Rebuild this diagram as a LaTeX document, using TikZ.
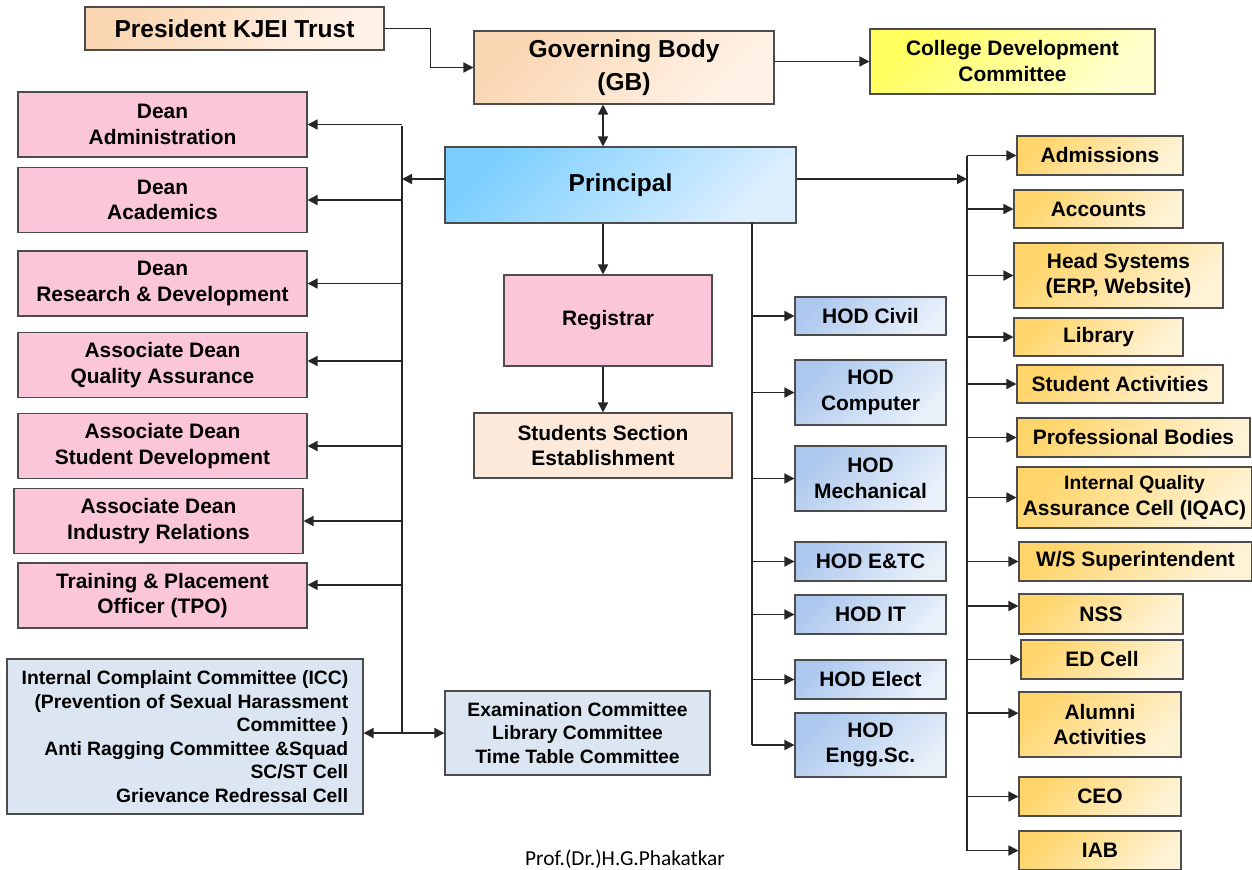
\documentclass[tikz,border=0pt]{standalone}
\usepackage{fontspec}
\setmainfont{Liberation Sans}
\newfontfamily\sigfont{Carlito}
\usepackage{tikz}
\usetikzlibrary{calc}
\usetikzlibrary{arrows.meta}
\definecolor{peachA}{HTML}{FAD6B2}
\definecolor{peachB}{HTML}{FFF3E8}
\definecolor{peachS}{HTML}{FDE9D9}
\definecolor{pinkF}{HTML}{FBC6D9}
\definecolor{prinA}{HTML}{7CCFFF}
\definecolor{prinB}{HTML}{DDEFFF}
\definecolor{hodA}{HTML}{ADC8EE}
\definecolor{hodB}{HTML}{E8F0FA}
\definecolor{yelA}{HTML}{FFD56B}
\definecolor{yelB}{HTML}{FFF3D6}
\definecolor{cdcA}{HTML}{FFFF5E}
\definecolor{cdcB}{HTML}{FFFFD0}
\definecolor{cmtF}{HTML}{DCE6F2}

\begin{document}
\begin{tikzpicture}[x=0.75pt,y=-0.75pt,
	font={\bfseries\fontsize{15.7}{19.2}\selectfont},
	bx/.style={draw=black!70, line width=0.8pt, inner sep=0pt, align=center},
	wh/.style 2 args={minimum width=#1*0.75pt, minimum height=#2*0.75pt},
	tf/.style={font={\bfseries\fontsize{18.4}{24.7}\selectfont}},
	sf/.style={font={\bfseries\fontsize{14.5}{17.6}\selectfont}},
	pc/.style={bx, top color=peachA, bottom color=peachB, shading angle=45},
	pk/.style={bx, fill=pinkF},
	pr/.style={bx, top color=prinA, bottom color=prinB, shading angle=45},
	hod/.style={bx, top color=hodA, bottom color=hodB, shading angle=45},
	yb/.style={bx, top color=yelA, bottom color=yelB, shading angle=45},
	cd/.style={bx, top color=cdcA, bottom color=cdcB, shading angle=45},
	cmt/.style={bx, fill=cmtF, sf},
	ln/.style={line width=1.1pt, black!85},
	ar/.style={ln, -{Triangle[length=7.5pt,width=7.5pt]}},
	dar/.style={ln, {Triangle[length=7.5pt,width=7.5pt]}-{Triangle[length=7.5pt,width=7.5pt]}}]
\useasboundingbox (0,0) rectangle (1252,869);

% top row
\node (pres) at (234.5,28.5) [pc,tf,wh={299}{43}] {President KJEI Trust};
\node (gb) at (624,67.5) [pc,tf,wh={300}{73}] {Governing Body\\(GB)};
\node (cdc) at (1012.5,61.5) [cd,wh={285}{65},font={\bfseries\fontsize{15.7}{19.5}\selectfont}] {College Development\\Committee};
\node (prin) at (620.5,185) [pr,tf,wh={351}{76}] {Principal};

% middle column
\node (reg) at (608,320.5) [pk,wh={208}{91}] {Registrar};
\node (ss) at (603,445.5) [bx,fill=peachS,wh={258}{65}] {Students Section\\Establishment};

% deans
\foreach \n/\x/\y/\t in {da/162.5/124.5/{Dean\\Administration}, dac/162.5/200/{Dean\\Academics},
	drd/162.5/283.5/{Dean\\Research \& Development}, dqa/162.5/365/{Associate Dean\\Quality Assurance},
	dsd/162.5/446/{Associate Dean\\Student Development}, dir/158.5/521/{Associate Dean\\Industry Relations},
	tpo/162.5/595.5/{Training \& Placement\\Officer (TPO)}} {
\node (\n) at (\x,\y) [pk,wh={289}{65}] {\t};
}

% committees
\node (icc) at (185,736.5) [cmt,wh={356}{155},align=right] {Internal Complaint Committee (ICC)\\(Prevention of Sexual Harassment\\Committee )\\Anti Ragging Committee \&Squad\\SC/ST Cell\\Grievance Redressal Cell};
\node (exam) at (577.5,733) [cmt,wh={265}{84}] {Examination Committee\\Library Committee\\Time Table Committee};

% HODs
\foreach \n/\y/\h/\t in {hc/316/38/{HOD Civil}, hcm/392.5/65/{HOD\\Computer}, hme/478.5/65/{HOD\\Mechanical},
	het/561.5/39/{HOD E\&TC}, hit/614.5/39/{HOD IT}, hel/679.5/39/{HOD Elect}, hes/745/64/{HOD\\Engg.Sc.}} {
\node (\n) at (870.5,\y) [hod,wh={151}{\h}] {\t};
}

% sections on the right
\foreach \n/\x/\y/\w/\h/\t in {adm/1100/155.5/166/39/Admissions, acc/1098.5/209/169/38/Accounts,
	hs/1118.5/275.5/209/65/{Head Systems\\(ERP, Website)}, lib/1098.5/337/169/38/Library,
	sa/1120/384/206/38/{Student Activities}, pb/1133.5/437.5/233/39/{Professional Bodies},
	iqac/1134.5/497.5/235/61/{\fontsize{14.5}{17.3}\selectfont Internal Quality\\Assurance Cell (IQAC)},
	ws/1135.5/561.5/233/39/{W/S Superintendent}, nss/1101/614/164/40/NSS, ed/1102/659.5/162/39/{ED Cell},
	alu/1100/724.5/162/65/{Alumni\\Activities}, ceo/1100/796.5/162/39/CEO, iab/1100/850.5/162/39/IAB} {
\node (\n) at (\x,\y) [yb,wh={\w}{\h}] {\t};
}

\node (sig) at (625,865) [anchor=base,font={\sigfont\fontsize{16}{18}\selectfont}] {Prof.(Dr.)H.G.Phakatkar};

% trunks
\coordinate (lt) at (402,126);
\coordinate (ht) at (752,223);
\coordinate (rt) at (967,155.5);
\coordinate (pw) at ([yshift=4.5pt]prin.west);
\coordinate (pe) at ([yshift=4.5pt]prin.east);

\draw[ar] (pres.east) -- ++(46,0) |- (gb.west);
\draw[ar] (gb.east |- cdc.west) -- (cdc.west);
\draw[dar] (ss.north |- gb.south) -- (ss.north |- prin.north);
\draw[ar] (ss.north |- prin.south) -- (ss.north |- reg.north);
\draw[ar] (ss.north |- reg.south) -- (ss.north);

\draw[ln] (lt) -- (exam.west -| lt);
\draw[ar] (pw) -- (pw -| lt);
\foreach \n/\o in {da/0,dac/0,drd/0,dqa/3,dsd/0,dir/0,tpo/8} {
\draw[ar] ([yshift=\o pt]\n.east -| lt) -- ([yshift=\o pt]\n.east);
}
\draw[dar] (exam.west -| icc.east) -- (exam.west);

\draw[ln] (ht) -- (hes.west -| ht);
\foreach \n in {hc,hcm,hme,het,hit,hel,hes} {
\draw[ar] (\n.west -| ht) -- (\n.west);
}

\draw[ln] (rt) -- (iab.west -| rt);
\draw[ar] (pe) -- (pe -| rt);
\foreach \n/\o in {adm/0,acc/0,hs/0,lib/0,sa/0,pb/0,iqac/0,ws/0,nss/6,ed/0,alu/8.5,ceo/0,iab/0} {
\draw[ar] ([yshift=\o pt]\n.west -| rt) -- ([yshift=\o pt]\n.west);
}
\end{tikzpicture}
\end{document}
